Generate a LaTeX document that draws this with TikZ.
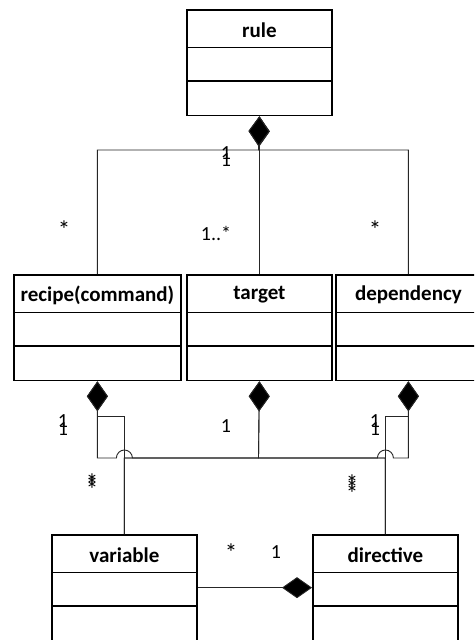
\documentclass[tikz,border=0pt]{standalone}
\usepackage{fontspec}
\setmainfont{Carlito}
\usetikzlibrary{arrows.meta}

\tikzset{
  classbox/.style={draw, line width=1.8pt, anchor=north west, inner sep=0pt,
                   minimum height=105.5pt},
  classline/.style={line width=1.8pt},
  classname/.style={font=\fontsize{21}{21}\selectfont\bfseries, anchor=center, inner sep=0pt},
  assoc/.style={line width=0.9pt, draw=black!85},
  comp/.style={assoc, {Diamond[length=30pt,width=21pt,fill=black]}-},
  mult/.style={font=\fontsize{20}{20}\selectfont, inner sep=0pt, anchor=base},
  many/.style={mult, font=\fontsize{25}{25}\selectfont},
}

% class box: name, x, y (top left), width, title
\newcommand\umlclass[5]{%
  \node[classbox, minimum width=#4pt] (#1) at (#2,#3) {};
  \draw[classline] ([yshift=-38.5pt]#1.north west) -- ([yshift=-38.5pt]#1.north east);
  \draw[classline] ([yshift=-72pt]#1.north west) -- ([yshift=-72pt]#1.north east);
  \node[classname] (#1-title) at ([yshift=-21pt]#1.north) {#5};
}

\begin{document}
\begin{tikzpicture}[x=1pt, y=-1pt]
  \useasboundingbox (0,0) rectangle (474,640);
  \clip (0,0) rectangle (474,640);

  % classes
  \umlclass{rule}{186}{9}{145}{rule}
  \umlclass{recipe}{13}{274}{167}{recipe(command)}
  \umlclass{target}{186}{274}{145}{target}
  \umlclass{dependency}{335}{274}{145}{dependency}
  \umlclass{variable}{51}{534}{145}{variable}
  \umlclass{directive}{312}{534}{145}{directive}

  % bus lines
  \coordinate (topbus) at (258.5,150);
  \coordinate (lowbus) at (258.5,458);

  % rule composes recipe, target, dependency
  \draw[comp] (rule.south) -- (topbus) -| (recipe.north);
  \draw[comp] (rule.south) -- (target.north);
  \draw[comp] (rule.south) -- (topbus) -| (dependency.north);

  % recipe composes variable and directive
  \draw[comp] (recipe.south) -- ++(0,35) -| (variable.north);
  \draw[comp] (recipe.south) |- ([xshift=-8pt]variable.north |- lowbus)
      arc[start angle=180, end angle=0, radius=8pt] -| (directive.north);

  % target composes variable and directive
  \draw[comp] (target.south) -- (lowbus) -| (variable.north);
  \draw[comp] (target.south) -- (lowbus) -| (directive.north);

  % dependency composes directive and variable
  \draw[comp] (dependency.south) -- ++(0,35) -| (directive.north);
  \draw[comp] (dependency.south) |- ([xshift=8pt]directive.north |- lowbus)
      arc[start angle=0, end angle=180, radius=8pt] -| (variable.north);

  % directive composes variable
  \draw[comp] (directive.west) -- (variable.east);

  % multiplicities, upper level
  \node[mult] (m-rule-a) at (226,159) {1};
  \node[mult] (m-rule-b) at (226,166) {1};
  \node[many] (m-recipe) at (64,238) {*};
  \node[mult] (m-target) at (216,240) {1..*};
  \node[many] (m-dep)    at (375,238) {*};

  % multiplicities, lower level
  \node[mult] (m-rc-a) at (63,427) {1};
  \node[mult] (m-rc-b) at (63,435) {1};
  \node[mult] (m-tg)   at (226,432) {1};
  \node[mult] (m-dp-a) at (375,427) {1};
  \node[mult] (m-dp-b) at (375,435) {1};

  \node[many] (m-var-a) at (92,491) {*};
  \node[many] (m-var-b) at (92,494) {*};
  \node[many] (m-var-c) at (92,498) {*};
  \node[many] (m-dir-a) at (352,492) {*};
  \node[many] (m-dir-b) at (352,497) {*};
  \node[many] (m-dir-c) at (352,502) {*};

  % multiplicities, bottom association
  \node[many] (m-bv) at (231,561) {*};
  \node[mult] (m-bd) at (276,558) {1};
\end{tikzpicture}
\end{document}
